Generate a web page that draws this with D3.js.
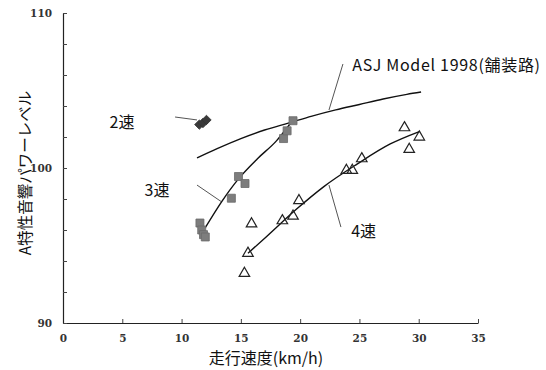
<!DOCTYPE html>
<html><head><meta charset="utf-8">
<script src="https://cdn.jsdelivr.net/npm/d3@7"></script>
<style>body{margin:0;background:#fff}svg{display:block}</style>
</head><body>
<svg id="c" width="546" height="370"></svg>
<script>
// Data
const gear2 = [[11.5,102.8],[11.8,102.9],[12.1,103.1]];
const gear3 = [[11.55,96.45],[11.7,96.0],[11.85,95.7],[12.0,95.55],[14.2,98.05],[14.8,99.45],[15.35,99.0],[18.6,101.9],[18.9,102.4],[19.4,103.05]];
const gear4 = [[15.3,93.2],[15.6,94.5],[15.9,96.4],[18.5,96.6],[19.4,96.9],[19.9,97.9],[23.9,99.85],[24.4,99.85],[25.2,100.6],[28.8,102.6],[30.05,102.0],[29.2,101.2]];
const asjCurve = [[11.3,100.65],[13,101.25],[15,101.9],[17,102.45],[19,102.9],[21,103.35],[23,103.75],[25,104.1],[27,104.45],[29,104.75],[30.2,104.9]];
const fit3 = [[12.0,96.15],[13.4,97.85],[14.8,99.3],[16.4,100.6],[18.0,101.75],[19.3,103.0]];
const fit4 = [[15.6,94.5],[17.2,95.6],[19.7,97.35],[22.0,98.8],[24.8,100.25],[27.6,101.55],[30.05,102.35]];
const xTicks = [0,5,10,15,20,25,30,35];
const yTicks = [90,92,94,96,98,100,102,104,106,108,110];
const yLabels = [90,100,110];
const labels = [
  {text:"2速", x:4.98, y:102.97, anchor:"middle", ls:0, lx:[9.45,11.3], ly:[103.29,103.1]},
  {text:"3速", x:7.93, y:98.55, anchor:"middle", ls:0, lx:[11.3,13.33], ly:[98.9,97.84]},
  {text:"ASJ Model 1998(舗装路)", x:24.4, y:106.65, anchor:"start", ls:0.7, lx:[23.61,22.43], ly:[106.71,103.74]},
  {text:"4速", x:24.3, y:95.94, anchor:"start", ls:0, lx:[22.43,23.44], ly:[98.9,96.19]}
];

const svg = d3.select("#c");
const x = d3.scaleLinear().domain([0,35]).range([63,478]);
const y = d3.scaleLinear().domain([90,110]).range([323,13]);
const jp = "'Noto Sans CJK JP','Noto Sans',sans-serif";
const num = "'DejaVu Serif','Liberation Serif',serif";

// axes
const xa = svg.append("g").attr("transform",`translate(0,${y(90)})`)
  .call(d3.axisBottom(x).tickValues(xTicks).tickSizeInner(-4).tickSizeOuter(0).tickPadding(12));
const ya = svg.append("g").attr("transform",`translate(${x(0)},0)`)
  .call(d3.axisLeft(y).tickValues(yTicks).tickSizeInner(-4).tickSizeOuter(0).tickPadding(11)
    .tickFormat(d=> yLabels.includes(d)? d : ""));
[xa,ya].forEach(a=>{
  a.select(".domain").attr("stroke","#222").attr("stroke-width",1.2);
  a.selectAll(".tick line").attr("stroke","#444");
  a.selectAll("text").attr("font-family",num).attr("font-size",10.5).attr("fill","#333").attr("font-weight","bold");
});

// curves
const line = d3.line().x(d=>x(d[0])).y(d=>y(d[1])).curve(d3.curveMonotoneX);
[asjCurve,fit3,fit4].forEach(c=>{
  svg.append("path").attr("d",line(c)).attr("fill","none").attr("stroke","#111").attr("stroke-width",1.4);
});

// leader lines and labels
labels.forEach(l=>{
  svg.append("line").attr("x1",x(l.lx[0])).attr("y1",y(l.ly[0])).attr("x2",x(l.lx[1])).attr("y2",y(l.ly[1]))
    .attr("stroke","#555").attr("stroke-width",1);
  svg.append("text").attr("x",x(l.x)).attr("y",y(l.y)).attr("dy","0.36em").attr("text-anchor",l.anchor)
    .attr("letter-spacing",l.ls)
    .attr("font-family",jp).attr("font-size",16).attr("fill","#111").text(l.text);
});

// markers
svg.append("g").selectAll("path").data(gear2).join("path")
  .attr("d",d3.symbol(d3.symbolSquare,44)())
  .attr("transform",d=>`translate(${x(d[0])},${y(d[1])}) rotate(45)`)
  .attr("fill","#3a3a3a").attr("stroke","#333").attr("stroke-width",0.8);
svg.append("g").selectAll("path").data(gear3).join("path")
  .attr("d",d3.symbol(d3.symbolSquare,64)())
  .attr("transform",d=>`translate(${x(d[0])},${y(d[1])})`)
  .attr("fill","#7d7d7d").attr("stroke","#6a6a6a").attr("stroke-width",0.8);
svg.append("g").selectAll("path").data(gear4).join("path")
  .attr("d",d3.symbol(d3.symbolTriangle,48)())
  .attr("transform",d=>`translate(${x(d[0])},${y(d[1])})`)
  .attr("fill","none").attr("stroke","#222").attr("stroke-width",1.2);

// axis titles
svg.append("text").attr("x",266).attr("y",358).attr("dy","0.36em").attr("text-anchor","middle")
  .attr("font-family",jp).attr("font-size",16).attr("fill","#111").text("走行速度(km/h)");
svg.append("text").attr("transform",`translate(25,173) rotate(-90)`).attr("dy","0.36em").attr("text-anchor","middle")
  .attr("font-family",jp).attr("font-size",15.5).attr("fill","#111").text("A特性音響パワーレベル");
</script>
</body></html>
